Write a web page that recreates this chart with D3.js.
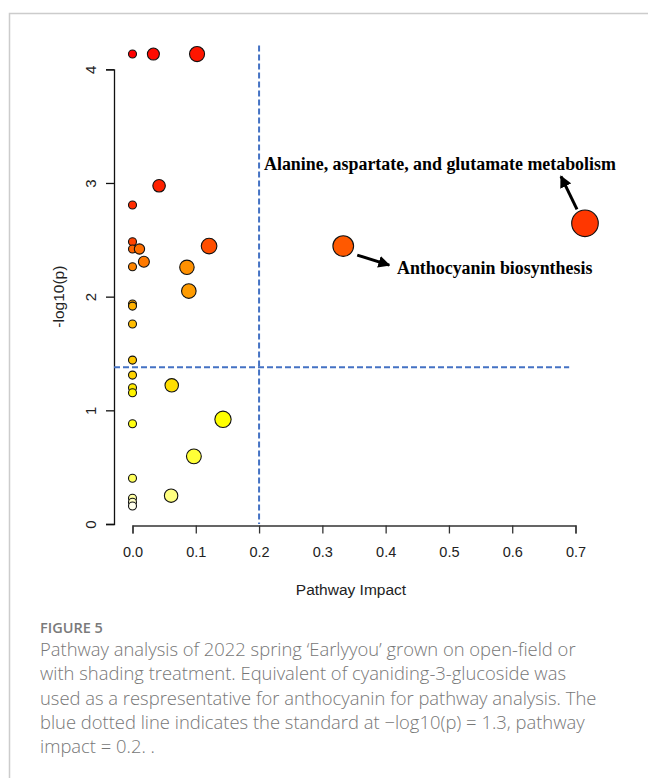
<!DOCTYPE html>
<html>
<head>
<meta charset="utf-8">
<script src="https://cdn.jsdelivr.net/npm/d3@7/dist/d3.min.js"></script>
<style>
  html, body { margin: 0; padding: 0; background: #fff; }
  svg { display: block; }
</style>
</head>
<body>
<svg id="chart" width="648" height="778"></svg>
<script>
// Pathway impact (x) and -log10(p) (y) for each metabolic pathway
const impact = [0, 0.033, 0.102, 0.042, 0, 0.715, 0, 0.121, 0.333, 0, 0.011, 0.018, 0, 0.086, 0.089,
                0, 0, 0, 0, 0, 0.062, 0, 0, 0.143, 0, 0.097, 0, 0.061, 0, 0, 0];
const negLogP = [4.134, 4.134, 4.134, 2.975, 2.806, 2.645, 2.483, 2.445, 2.445, 2.419, 2.419, 2.307, 2.263, 2.258, 2.049,
                 1.935, 1.917, 1.759, 1.442, 1.310, 1.220, 1.199, 1.155, 0.921, 0.882, 0.595, 0.402, 0.249, 0.226, 0.191, 0.158];
const labels = ["", "", "", "", "", "Alanine, aspartate, and glutamate metabolism", "", "", "Anthocyanin biosynthesis",
                "", "", "", "", "", "", "", "", "", "", "", "", "", "", "", "", "", "", "", "", "", ""];

const xTicks = [0, 0.1, 0.2, 0.3, 0.4, 0.5, 0.6, 0.7];
const yTicks = [0, 1, 2, 3, 4];
const thresholdNegLogP = 1.38;
const thresholdImpact = 0.2;

const captionTitle = "FIGURE 5";
const captionLines = [
  "Pathway analysis of 2022 spring \u2018Earlyyou\u2019 grown on open-field or",
  "with shading treatment. Equivalent of cyaniding-3-glucoside was",
  "used as a respresentative for anthocyanin for pathway analysis. The",
  "blue dotted line indicates the standard at \u2212log10(p) = 1.3, pathway",
  "impact = 0.2. ."
];

const svg = d3.select("#chart");

// frame around the figure panel
svg.append("path")
  .attr("d", "M9.5,778 L9.5,13.5 L648,13.5")
  .attr("fill", "none").attr("stroke", "#cccccc").attr("stroke-width", 1.5);

const x = d3.scaleLinear().domain([0, 0.7]).range([132.5, 575.5]);
const y = d3.scaleLinear().domain([0, 4]).range([524, 69.3]);
const r = d3.scaleSqrt().domain([0, 0.715]).range([4, 13.3]);

// R heat.colors by rank of p-value: red -> yellow, then fading to pale yellow
const n = impact.length;
const nPale = Math.floor(n / 4), nHue = n - nPale;
function heatColor(k) {
  if (k < nHue) {
    const h = (k / (nHue - 1)) * 60;
    return d3.hsl(h, 1, 0.5).formatHex();
  }
  const j = k - nHue;
  const sFrom = 1 - 1 / (2 * nPale), sTo = 1 / (2 * nPale);
  const s = nPale > 1 ? sFrom + (sTo - sFrom) * j / (nPale - 1) : sFrom;
  // hsv(1/6, s, 1) -> rgb(255, 255, 255*(1-s))
  return d3.rgb(255, 255, Math.round(255 * (1 - s))).formatHex();
}

const data = impact.map((v, i) => ({ impact: v, nlp: negLogP[i], label: labels[i] }));
const order = d3.range(n).sort((a, b) => d3.descending(data[a].nlp, data[b].nlp));
order.forEach((idx, rank) => { data[idx].color = heatColor(rank); });

// axes (R style: detached from each other)
const axisColor = "#333333";
const xAxis = svg.append("g").attr("transform", "translate(0,525.5)")
  .call(d3.axisBottom(x).tickValues(xTicks).tickFormat(d3.format(".1f")).tickSizeOuter(0).tickSize(8).tickPadding(13));
xAxis.select(".domain").attr("stroke", axisColor).attr("stroke-width", 1.3);
xAxis.selectAll(".tick line").attr("stroke", axisColor).attr("stroke-width", 1.3);
xAxis.selectAll(".tick text").attr("fill", "#222").style("font-family", "'Liberation Sans', Arial, sans-serif").style("font-size", "14.5px");

const yAxis = svg.append("g").attr("transform", "translate(114,0)")
  .call(d3.axisLeft(y).tickValues(yTicks).tickFormat(d3.format("d")).tickSizeOuter(0).tickSize(8));
yAxis.select(".domain").attr("stroke", "#111").attr("stroke-width", 1.3);
yAxis.selectAll(".tick line").attr("stroke", "#111").attr("stroke-width", 1.3);
yAxis.selectAll(".tick text")
  .attr("x", null).attr("dy", null)
  .attr("transform", "translate(-24,0) rotate(-90)")
  .attr("text-anchor", "middle").attr("dominant-baseline", "central")
  .attr("fill", "#222").style("font-family", "'Liberation Sans', Arial, sans-serif").style("font-size", "15px");

svg.append("text")
  .attr("x", x(0.35) - 3).attr("y", 595)
  .attr("text-anchor", "middle")
  .style("font-family", "'Liberation Sans', Arial, sans-serif").style("font-size", "15.5px").attr("fill", "#222")
  .text("Pathway Impact");

svg.append("text")
  .attr("transform", `translate(58,${(y(0) + y(4)) / 2}) rotate(-90)`)
  .attr("text-anchor", "middle").attr("dominant-baseline", "central")
  .style("font-family", "'Liberation Sans', Arial, sans-serif").style("font-size", "15.5px").attr("fill", "#222")
  .text("-log10(p)");

// threshold lines
const dashColor = "#4472c4";
svg.append("line")
  .attr("x1", 114).attr("x2", x(0.69))
  .attr("y1", y(thresholdNegLogP)).attr("y2", y(thresholdNegLogP))
  .attr("stroke", dashColor).attr("stroke-width", 2).attr("stroke-dasharray", "6,3");
svg.append("line")
  .attr("x1", x(thresholdImpact)).attr("x2", x(thresholdImpact))
  .attr("y1", y(4.21)).attr("y2", y(0))
  .attr("stroke", dashColor).attr("stroke-width", 2).attr("stroke-dasharray", "6,3");

// pathway bubbles
svg.append("g").selectAll("circle")
  .data(data)
  .join("circle")
  .attr("cx", d => x(d.impact))
  .attr("cy", d => y(d.nlp))
  .attr("r", d => r(d.impact))
  .attr("fill", d => d.color)
  .attr("stroke", "#111").attr("stroke-width", 1.1);

// annotations with arrows
const defs = svg.append("defs");
defs.append("marker")
  .attr("id", "arrowhead").attr("viewBox", "0 0 10 10")
  .attr("refX", 9).attr("refY", 5)
  .attr("markerWidth", 4).attr("markerHeight", 4)
  .attr("orient", "auto")
  .append("path").attr("d", "M0,0 L10,5 L0,10 Z").attr("fill", "#000");

const annot = data.filter(d => d.label);
const annotLayout = {
  "Alanine, aspartate, and glutamate metabolism": { tx: 264, ty: 169.5, ax1: [-8, -14], ax2: [-24, -47] },
  "Anthocyanin biosynthesis": { tx: 397, ty: 273.5, ax1: [14, 9], ax2: [46, 19] }
};
annot.forEach(d => {
  const L = annotLayout[d.label];
  const cx = x(d.impact), cy = y(d.nlp);
  svg.append("line")
    .attr("x1", cx + L.ax1[0]).attr("y1", cy + L.ax1[1])
    .attr("x2", cx + L.ax2[0]).attr("y2", cy + L.ax2[1])
    .attr("stroke", "#000").attr("stroke-width", 3)
    .attr("marker-end", "url(#arrowhead)");
  svg.append("text")
    .attr("x", L.tx).attr("y", L.ty)
    .style("font-family", "'Liberation Serif', 'Times New Roman', serif")
    .style("font-weight", "bold").style("font-size", "17.9px").attr("fill", "#000")
    .text(d.label);
});

// caption
svg.append("text")
  .attr("x", 40).attr("y", 633)
  .style("font-family", "'Open Sans', sans-serif").style("font-weight", "600")
  .style("font-size", "14.5px").attr("fill", "#7a7a7a")
  .text(captionTitle);
svg.append("g").selectAll("text")
  .data(captionLines)
  .join("text")
  .attr("x", 40).attr("y", (d, i) => 656 + i * 24.3)
  .style("font-family", "'Open Sans', sans-serif").style("font-weight", "300")
  .style("font-size", "18.4px").attr("fill", "#777777")
  .text(d => d);
</script>
</body>
</html>
